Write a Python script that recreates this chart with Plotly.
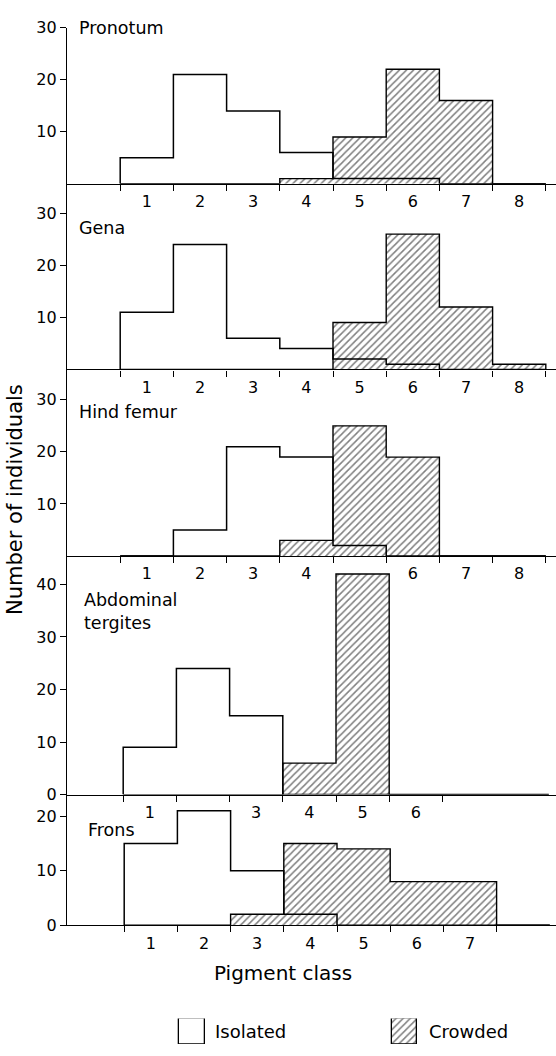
import plotly.graph_objects as go

# ---------------- data ----------------
classes = [1, 2, 3, 4, 5, 6, 7, 8]
panels = ["Pronotum", "Gena", "Hind femur", "Abdominal<br>tergites", "Frons"]

pronotum_isolated = [5, 21, 14, 6, 1, 1, 0, 0]
pronotum_crowded = [0, 0, 0, 1, 9, 22, 16, 0]
gena_isolated = [11, 24, 6, 4, 2, 1, 0, 0]
gena_crowded = [0, 0, 0, 0, 9, 26, 12, 1]
hind_isolated = [0, 5, 21, 19, 2, 0, 0, 0]
hind_crowded = [0, 0, 0, 3, 25, 19, 0, 0]
abd_isolated = [9, 24, 15, 0, 0, 0, 0, 0]
abd_crowded = [0, 0, 0, 6, 42, 0, 0, 0]
frons_isolated = [15, 21, 10, 2, 0, 0, 0, 0]
frons_crowded = [0, 0, 2, 15, 14, 8, 8, 0]

isolated = [pronotum_isolated, gena_isolated, hind_isolated, abd_isolated, frons_isolated]
crowded = [pronotum_crowded, gena_crowded, hind_crowded, abd_crowded, frons_crowded]

y_tickvals = [[10, 20, 30], [10, 20, 30], [10, 20, 30], [0, 10, 20, 30, 40], [0, 10, 20]]
x_ticklabels = [
    ["1", "2", "3", "4", "5", "6", "7", "8"],
    ["1", "2", "3", "4", "5", "6", "7", "8"],
    ["1", "2", "3", "4", "", "6", "7", "8"],
    ["1", "", "3", "4", "5", "6", "", ""],
    ["1", "2", "3", "4", "5", "6", "7", ""],
]
n_boundaries = [9, 9, 9, 7, 8]

# ---------------- layout geometry (pixels) ----------------
W, H = 556, 1056
units = [5.3, 5.3, 5.3, 5.35, 5.55]  # pixels per individual, per panel
baselines = [178, 367, 557, 800, 933]
top_px = [19, 178, 367, 557, 800]
x_shift_px = [0, 0, 0, 3, 4]
AXIS_X = 67
XU = 53.2  # pixels per pigment class
X_MIN = -0.5
X_MAX = X_MIN + (W - AXIS_X) / XU
FONT = "DejaVu Sans"


def py(p):
    return 1 - p / H


def px(p):
    return p / W


fig = go.Figure()
pattern = dict(shape="/", size=5, solidity=0.3, fgcolor="black", bgcolor="white")

for i in range(5):
    xa = "x" if i == 0 else f"x{i+1}"
    ya = "y" if i == 0 else f"y{i+1}"
    edges = [c - 0.5 for c in classes] + [classes[-1] + 0.5]
    xs = [edges[0]] + edges
    yc = [0] + list(crowded[i]) + [0]
    yi = [0] + list(isolated[i]) + [0]
    fig.add_trace(go.Scatter(
        x=xs, y=yc, mode="lines", line=dict(shape="hv", color="black", width=1.4),
        fill="tozeroy", fillcolor="white", fillpattern=pattern,
        xaxis=xa, yaxis=ya, showlegend=False, hoverinfo="skip"))
    fig.add_trace(go.Scatter(
        x=xs, y=yi, mode="lines", line=dict(shape="hv", color="black", width=1.5),
        xaxis=xa, yaxis=ya, showlegend=False, hoverinfo="skip"))

    yr_top = (baselines[i] - top_px[i]) / units[i]
    sh = x_shift_px[i] / XU
    xkey = "xaxis" if i == 0 else f"xaxis{i+1}"
    ykey = "yaxis" if i == 0 else f"yaxis{i+1}"
    fig.update_layout(**{
        xkey: dict(
            domain=[px(AXIS_X), 1], range=[X_MIN - sh, X_MAX - sh], anchor=ya,
            showline=True, linecolor="black", linewidth=1.3,
            showgrid=False, zeroline=False,
            tickmode="array", tickvals=classes, ticktext=x_ticklabels[i],
            ticks="outside", ticklen=3, tickcolor="rgba(0,0,0,0)",
            tickfont=dict(family=FONT, size=16, color="black"),
            minor=dict(tickmode="array",
                       tickvals=[e for e in edges[:n_boundaries[i]]],
                       ticks="outside", ticklen=6, tickcolor="black", tickwidth=1.2,
                       showgrid=False),
            fixedrange=True,
        ),
        ykey: dict(
            domain=[py(baselines[i]), py(top_px[i])], range=[0, yr_top], anchor=xa,
            showline=True, linecolor="black", linewidth=1.3,
            showgrid=False, zeroline=False,
            tickmode="array", tickvals=y_tickvals[i],
            ticks="outside", ticklen=6, tickcolor="black", tickwidth=1.2,
            tickfont=dict(family=FONT, size=16, color="black"),
            fixedrange=True,
        ),
    })

# panel labels
label_pos = [(77, 19), (77, 223), (77, 410), (82, 614), (86, 836)]
for name, (lx, ly) in zip(panels, label_pos):
    fig.add_annotation(text=name, x=px(lx), y=py(ly), xref="paper", yref="paper",
                       xanchor="left", yanchor="middle", align="left", showarrow=False,
                       font=dict(family=FONT, size=17.5, color="black"))

# axis titles
fig.add_annotation(text="Pigment class", x=px(212), y=py(982), xref="paper", yref="paper",
                   xanchor="left", yanchor="middle",
                   showarrow=False, font=dict(family=FONT, size=20, color="black"))
fig.add_annotation(text="Number of individuals", x=px(15), y=py(500), xref="paper", yref="paper",
                   xanchor="center", yanchor="middle",
                   textangle=-90, showarrow=False, font=dict(family=FONT, size=21, color="black"))

# legend swatches (own hidden axis in pixel units)
legend_names = ["Isolated", "Crowded"]
fig.add_trace(go.Bar(x=[191.5], y=[1], width=[26], marker=dict(color="white", line=dict(color="black", width=1.3)),
                     xaxis="x6", yaxis="y6", showlegend=False, hoverinfo="skip"))
fig.add_trace(go.Bar(x=[404.5], y=[1], width=[25],
                     marker=dict(color="white", pattern=pattern,
                                 line=dict(color="black", width=1.3)),
                     xaxis="x6", yaxis="y6", showlegend=False, hoverinfo="skip"))
fig.update_layout(
    xaxis6=dict(domain=[0, 1], range=[0, W], visible=False, anchor="y6", fixedrange=True),
    yaxis6=dict(domain=[py(1054), py(1028)], range=[0, 1], visible=False, anchor="x6", fixedrange=True),
)
for name, lx in zip(legend_names, [213, 427]):
    fig.add_annotation(text=name, x=px(lx), y=py(1041), xref="paper", yref="paper",
                       xanchor="left", yanchor="middle", showarrow=False,
                       font=dict(family=FONT, size=18, color="black"))

fig.update_layout(
    width=W, height=H, margin=dict(l=0, r=0, t=0, b=0),
    paper_bgcolor="white", plot_bgcolor="white", showlegend=False,
    font=dict(family=FONT, color="black"), bargap=0,
)

fig.write_html(
    "out.html",
    config={"displayModeBar": False},
    post_script="document.body.style.margin='0';document.body.style.padding='0';document.body.style.overflow='hidden';",
)
